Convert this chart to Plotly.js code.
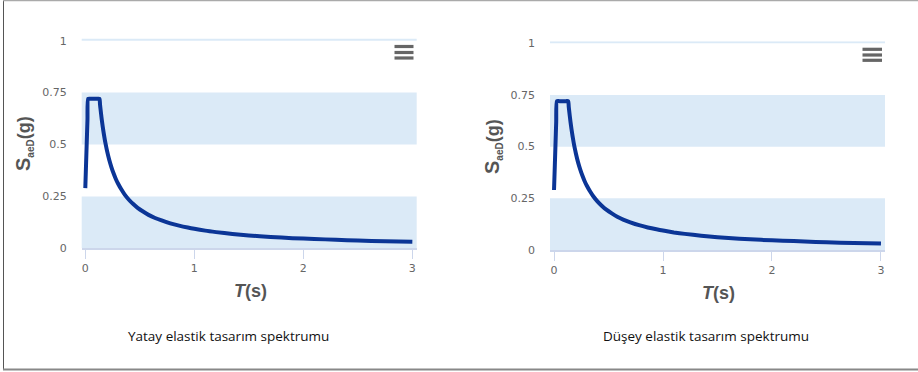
<!DOCTYPE html>
<html>
<head>
<meta charset="utf-8">
<script src="https://cdn.plot.ly/plotly-3.0.1.min.js"></script>
<style>
  html, body { margin: 0; padding: 0; background: #fff; }
  #chart { width: 918px; height: 372px; }
</style>
</head>
<body>
<div id="chart"></div>
<script>
// Period T (s)
const periodT = [0, 0.007, 0.013, 0.02, 0.026, 0.05, 0.08, 0.11, 0.13, 0.135, 0.14, 0.15, 0.16, 0.17, 0.18, 0.19, 0.2, 0.22, 0.24, 0.26, 0.28, 0.3, 0.33, 0.36, 0.4, 0.44, 0.48, 0.53, 0.58, 0.64, 0.7, 0.78, 0.86, 0.94, 1.0, 1.1, 1.2, 1.35, 1.5, 1.7, 1.9, 2.1, 2.3, 2.5, 2.75, 3.0];
// Horizontal elastic design spectrum SaeD (g)
const saeYatay = [0.29, 0.406, 0.505, 0.621, 0.72, 0.72, 0.72, 0.72, 0.72, 0.693, 0.669, 0.624, 0.585, 0.551, 0.52, 0.493, 0.468, 0.425, 0.39, 0.36, 0.334, 0.312, 0.284, 0.26, 0.234, 0.213, 0.195, 0.177, 0.161, 0.146, 0.134, 0.12, 0.109, 0.1, 0.094, 0.085, 0.078, 0.069, 0.062, 0.055, 0.049, 0.045, 0.041, 0.037, 0.034, 0.031];
// Vertical elastic design spectrum SaeD (g)
const saeDusey = [0.29, 0.406, 0.505, 0.621, 0.72, 0.72, 0.72, 0.72, 0.72, 0.693, 0.669, 0.624, 0.585, 0.551, 0.52, 0.493, 0.468, 0.425, 0.39, 0.36, 0.334, 0.312, 0.284, 0.26, 0.234, 0.213, 0.195, 0.177, 0.161, 0.146, 0.134, 0.12, 0.109, 0.1, 0.094, 0.085, 0.078, 0.069, 0.062, 0.055, 0.049, 0.045, 0.041, 0.037, 0.034, 0.031];
// Axis ticks
const xTicks = [0, 1, 2, 3];
const xTickLabels = ['0', '1', '2', '3'];
const yTicks = [0, 0.25, 0.5, 0.75, 1];
const yTickLabels = ['0', '0.25', '0.5', '0.75', '1'];
// Shaded bands (y ranges)
const bandFrom = [0, 0.5];
const bandTo = [0.25, 0.75];
// Captions
const captions = ['Yatay elastik tasarım spektrumu', 'Düşey elastik tasarım spektrumu'];

const W = 918, H = 372;
const px = v => v / W;
const py = v => 1 - v / H;

const lineColor = '#0b3596';
const bandColor = '#dbeaf7';
const axisColor = '#ccd6eb';
const tickFont = { family: 'DejaVu Sans, sans-serif', size: 11, color: '#666666' };

const traces = [
  { x: periodT, y: saeYatay, xaxis: 'x', yaxis: 'y', type: 'scatter', mode: 'lines',
    line: { color: lineColor, width: 4, shape: 'spline', smoothing: 0.5 }, hoverinfo: 'x+y', showlegend: false },
  { x: periodT, y: saeDusey, xaxis: 'x2', yaxis: 'y2', type: 'scatter', mode: 'lines',
    line: { color: lineColor, width: 4, shape: 'spline', smoothing: 0.5 }, hoverinfo: 'x+y', showlegend: false }
];

function xAxis(domain, range, anchor) {
  return {
    domain: domain, range: range, anchor: anchor,
    tickmode: 'array', tickvals: xTicks, ticktext: xTickLabels,
    ticks: 'outside', ticklen: 9, tickwidth: 1, tickcolor: axisColor,
    showline: true, linecolor: axisColor, linewidth: 1.5,
    showgrid: false, zeroline: false, tickfont: tickFont, fixedrange: true
  };
}
function yAxis(domain, anchor) {
  return {
    domain: domain, range: [0, 1.01], anchor: anchor,
    tickmode: 'array', tickvals: yTicks, ticktext: yTickLabels,
    ticks: '', showline: false, showgrid: false, zeroline: false,
    ticklabelstandoff: 14, tickfont: tickFont, fixedrange: true
  };
}

const shapes = [];
// plot bands
[['x', 'y'], ['x2', 'y2']].forEach(([xr, yr]) => {
  for (let i = 0; i < bandFrom.length; i++) {
    shapes.push({ type: 'rect', xref: xr + ' domain', yref: yr, x0: 0, x1: 1, y0: bandFrom[i], y1: bandTo[i],
      fillcolor: bandColor, line: { width: 0 }, layer: 'below' });
  }
  shapes.push({ type: 'rect', xref: xr + ' domain', yref: yr, x0: 0, x1: 1, y0: 1, y1: 1.01,
    fillcolor: bandColor, line: { width: 0 }, layer: 'below' });
});

// hamburger menu icons
function burger(x0, x1, ys) {
  ys.forEach(yc => {
    shapes.push({ type: 'rect', xref: 'paper', yref: 'paper',
      x0: px(x0), x1: px(x1), y0: py(yc - 1.6), y1: py(yc + 1.6),
      fillcolor: '#666666', line: { width: 0 } });
  });
}
burger(394.5, 413.5, [46.5, 52.5, 58]);
burger(862.5, 882, [49.3, 55, 60.3]);

// outer frame
shapes.push({ type: 'line', xref: 'paper', yref: 'paper', x0: px(3.5), x1: px(3.5), y0: py(0), y1: py(369.5), line: { color: '#555', width: 1 } });
shapes.push({ type: 'line', xref: 'paper', yref: 'paper', x0: px(3), x1: 1, y0: py(0.5), y1: py(0.5), line: { color: '#aaaaaa', width: 1.5 } });
shapes.push({ type: 'line', xref: 'paper', yref: 'paper', x0: px(3), x1: 1, y0: py(369.5), y1: py(369.5), line: { color: '#888888', width: 2 } });

const titleFont = { family: 'Liberation Sans, Arial, sans-serif', size: 18, color: '#555555' };
const yTitle = '<b><span style="font-size:20px">S</span><sub><span style="font-size:10px">aeD</span></sub>(g)</b>';
const capFont = { family: 'Open Sans, sans-serif', size: 13.5, color: '#111111' };
const annotations = [
  { text: '<b><i>T</i>(s)</b>', xref: 'paper', yref: 'paper', x: px(250), y: py(291), showarrow: false, font: titleFont, xanchor: 'center', yanchor: 'middle' },
  { text: '<b><i>T</i>(s)</b>', xref: 'paper', yref: 'paper', x: px(718), y: py(293), showarrow: false, font: titleFont, xanchor: 'center', yanchor: 'middle' },
  { text: yTitle, xref: 'paper', yref: 'paper', x: px(24), y: py(144), showarrow: false, font: titleFont, textangle: -90, xanchor: 'center', yanchor: 'middle' },
  { text: yTitle, xref: 'paper', yref: 'paper', x: px(493), y: py(147), showarrow: false, font: titleFont, textangle: -90, xanchor: 'center', yanchor: 'middle' },
  { text: captions[0], xref: 'paper', yref: 'paper', x: px(228), y: py(336), showarrow: false, font: capFont, xanchor: 'center', yanchor: 'middle' },
  { text: captions[1], xref: 'paper', yref: 'paper', x: px(706), y: py(336), showarrow: false, font: capFont, xanchor: 'center', yanchor: 'middle' }
];

const layout = {
  width: W, height: H,
  margin: { l: 0, r: 0, t: 0, b: 0 },
  paper_bgcolor: '#ffffff', plot_bgcolor: 'rgba(0,0,0,0)',
  showlegend: false,
  xaxis: xAxis([px(81.7), px(416.7)], [-0.033, 3.04], 'y'),
  yaxis: yAxis([py(248.3), py(38.6)], 'x'),
  xaxis2: xAxis([px(550), px(885)], [-0.037, 3.037], 'y2'),
  yaxis2: yAxis([py(250), py(41.2)], 'x2'),
  shapes: shapes,
  annotations: annotations
};

Plotly.newPlot('chart', traces, layout, { displayModeBar: false });
</script>
</body>
</html>
